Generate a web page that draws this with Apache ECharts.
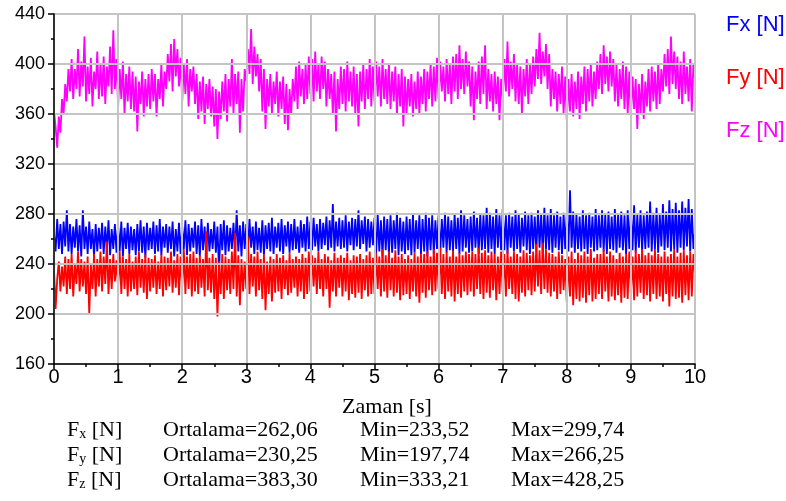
<!DOCTYPE html>
<html>
<head>
<meta charset="utf-8">
<title>Kuvvet - Zaman</title>
<script src="https://cdn.jsdelivr.net/npm/echarts@6/dist/echarts.min.js"></script>
<style>
    html, body { margin: 0; padding: 0; background: #fff; }
    #chart { width: 786px; height: 501px; }
</style>
</head>
<body>
<div id="chart"></div>
<script>
// örnekleme aralığı [s]
var dt = 0.025;

// Fx [N] (mavi)
var fxData = [
    264, 250, 276, 252, 272, 248, 274, 254, 283, 250,
    272, 248, 270, 253, 276, 250, 271, 246, 283, 252,
    270, 248, 274, 252, 268, 246, 272, 250, 269, 252,
    273, 248, 270, 251, 275, 247, 268, 252, 272, 249,
    271, 250, 274, 246, 269, 252, 273, 248, 270, 251,
    268, 247, 272, 250, 275, 249, 270, 245, 273, 251,
    269, 252, 274, 248, 271, 250, 276, 247, 270, 253,
    272, 249, 270, 252, 274, 246, 268, 250, 273, 248,
    270, 252, 275, 247, 272, 250, 269, 253, 274, 248,
    271, 246, 276, 251, 270, 248, 273, 250, 268, 252,
    274, 249, 270, 234, 272, 251, 275, 247, 271, 250,
    269, 252, 273, 248, 283, 250, 271, 246, 274, 252,
    272, 250, 276, 253, 270, 248, 274, 251, 269, 249,
    275, 247, 271, 252, 273, 250, 277, 248, 270, 253,
    273, 250, 276, 248, 271, 254, 274, 249, 272, 251,
    276, 252, 270, 249, 275, 253, 272, 250, 278, 252,
    274, 251, 277, 254, 272, 250, 276, 252, 273, 255,
    278, 251, 275, 253, 288, 250, 274, 254, 277, 252,
    275, 253, 279, 250, 274, 255, 277, 251, 276, 254,
    283, 252, 275, 256, 278, 250, 276, 253, 274, 255,
    277, 248, 280, 250, 275, 246, 278, 251, 276, 248,
    279, 249, 275, 252, 281, 247, 277, 250, 274, 248,
    278, 251, 276, 247, 280, 249, 275, 252, 279, 248,
    276, 250, 281, 246, 277, 251, 279, 248, 275, 252,
    279, 248, 276, 253, 281, 249, 278, 251, 275, 250,
    280, 252, 277, 248, 283, 250, 279, 253, 276, 249,
    278, 250, 282, 253, 277, 248, 280, 251, 279, 252,
    285, 249, 281, 252, 278, 248, 284, 253, 279, 251,
    284, 251, 279, 248, 281, 253, 278, 250, 283, 252,
    280, 249, 277, 254, 282, 251, 279, 248, 281, 252,
    278, 250, 283, 253, 280, 248, 285, 252, 279, 251,
    284, 249, 279, 253, 282, 251, 278, 248, 281, 252,
    281, 250, 299, 253, 282, 249, 280, 252, 278, 250,
    283, 252, 279, 248, 281, 253, 278, 250, 284, 251,
    279, 253, 283, 250, 280, 248, 282, 252, 278, 251,
    284, 249, 280, 253, 282, 251, 279, 248, 283, 252,
    281, 251, 287, 249, 280, 253, 283, 250, 279, 252,
    282, 253, 290, 250, 281, 252, 285, 249, 280, 254,
    288, 251, 282, 253, 291, 250, 284, 252, 289, 249,
    283, 253, 290, 251, 285, 254, 292, 250, 284, 252,
    266
];

// Fy [N] (kırmızı)
var fyData = [
    236, 204, 228, 242, 218, 238, 222, 246, 216, 244,
    220, 248, 214, 240, 224, 250, 218, 244, 222, 242,
    216, 246, 200, 240, 220, 248, 214, 244, 222, 250,
    218, 246, 224, 258, 216, 244, 220, 248, 226, 243,
    222, 250, 216, 246, 220, 244, 214, 248, 218, 242,
    220, 246, 215, 250, 221, 244, 217, 248, 212, 245,
    218, 244, 221, 247, 216, 242, 220, 248, 214, 246,
    219, 245, 222, 250, 217, 243, 221, 248, 215, 246,
    222, 252, 216, 246, 220, 248, 214, 250, 218, 245,
    216, 247, 221, 244, 214, 266, 219, 245, 217, 248,
    212, 245, 198, 242, 216, 248, 212, 246, 219, 244,
    216, 250, 220, 265, 214, 247, 207, 244, 218, 242,
    220, 262, 216, 248, 222, 246, 214, 250, 219, 244,
    212, 248, 203, 242, 216, 246, 210, 244, 217, 248,
    218, 245, 212, 247, 220, 243, 215, 249, 217, 244,
    221, 246, 214, 244, 218, 248, 212, 245, 216, 250,
    218, 247, 222, 245, 216, 250, 220, 244, 214, 248,
    220, 246, 205, 243, 218, 249, 214, 245, 221, 247,
    214, 245, 218, 249, 211, 243, 216, 247, 213, 246,
    217, 248, 212, 244, 219, 247, 214, 250, 216, 245,
    216, 249, 220, 246, 214, 252, 218, 247, 213, 250,
    219, 245, 214, 251, 217, 246, 211, 248, 215, 244,
    216, 247, 212, 244, 218, 249, 214, 246, 209, 248,
    217, 248, 213, 250, 219, 246, 215, 252, 218, 249,
    220, 253, 216, 248, 212, 250, 218, 246, 214, 251,
    210, 246, 216, 249, 213, 247, 218, 250, 215, 248,
    218, 250, 214, 248, 220, 253, 216, 249, 212, 251,
    217, 247, 213, 250, 219, 248, 211, 246, 216, 250,
    218, 248, 214, 251, 220, 246, 216, 250, 212, 248,
    210, 246, 217, 251, 214, 249, 219, 247, 215, 250,
    218, 256, 222, 251, 216, 257, 220, 252, 217, 249,
    214, 248, 218, 246, 212, 250, 216, 247, 219, 244,
    209, 246, 214, 250, 207, 244, 212, 249, 210, 247,
    213, 250, 209, 246, 215, 252, 210, 245, 212, 248,
    216, 248, 212, 252, 218, 246, 210, 250, 214, 247,
    211, 244, 215, 249, 209, 246, 213, 248, 212, 250,
    216, 246, 211, 251, 214, 248, 217, 252, 212, 247,
    215, 249, 210, 247, 216, 252, 212, 248, 214, 246,
    210, 250, 216, 246, 206, 248, 214, 252, 212, 246,
    213, 249, 209, 251, 215, 247, 211, 250, 214, 248,
    232
];

// Fz [N] (pembe)
var fzData = [
    362, 350, 333, 358, 345, 372, 360, 384, 370, 396,
    378, 404, 372, 396, 380, 412, 374, 402, 382, 422,
    370, 398, 376, 405, 366, 394, 380, 410, 372, 400,
    374, 406, 368, 398, 382, 414, 376, 427, 380, 404,
    366, 396, 372, 402, 360, 392, 370, 398, 364, 394,
    362, 390, 346, 386, 368, 394, 358, 388, 366, 392,
    364, 396, 370, 392, 358, 388, 372, 400, 366, 394,
    380, 408, 386, 416, 378, 420, 390, 412, 382, 405,
    370, 400, 376, 404, 366, 396, 378, 398, 368, 392,
    356, 386, 362, 390, 352, 384, 364, 388, 358, 382,
    350, 380, 340, 378, 356, 386, 362, 392, 354, 388,
    366, 404, 360, 392, 368, 394, 345, 388, 362, 396,
    386, 412, 392, 428, 384, 414, 390, 408, 378, 404,
    362, 396, 348, 388, 366, 392, 360, 386, 368, 394,
    358, 386, 364, 390, 352, 384, 347, 380, 360, 388,
    370, 398, 364, 402, 374, 396, 368, 400, 372, 406,
    376, 404, 370, 410, 378, 400, 372, 406, 380, 402,
    366, 396, 372, 392, 360, 394, 346, 388, 364, 398,
    368, 396, 362, 402, 370, 394, 366, 398, 360, 392,
    350, 394, 370, 400, 364, 396, 372, 404, 366, 398,
    370, 402, 374, 398, 366, 404, 372, 396, 368, 400,
    364, 394, 370, 398, 360, 392, 366, 396, 350, 390,
    360, 388, 366, 392, 358, 386, 364, 394, 360, 390,
    368, 396, 362, 394, 372, 400, 366, 398, 370, 405,
    372, 402, 378, 398, 370, 404, 376, 400, 368, 406,
    378, 408, 372, 415, 380, 404, 376, 410, 382, 402,
    366, 398, 355, 394, 372, 402, 368, 406, 376, 415,
    364, 396, 370, 392, 362, 394, 368, 390, 355, 388,
    372, 404, 378, 418, 374, 402, 380, 408, 370, 400,
    368, 398, 360, 396, 374, 404, 368, 400, 376, 406,
    382, 412, 388, 425, 384, 410, 390, 416, 380, 408,
    366, 396, 372, 394, 362, 392, 368, 398, 360, 390,
    355, 388, 362, 392, 358, 386, 364, 394, 356, 390,
    368, 398, 362, 396, 370, 400, 366, 394, 372, 402,
    380, 408, 376, 415, 384, 406, 378, 410, 382, 404,
    370, 400, 366, 396, 372, 402, 364, 398, 360, 394,
    358, 390, 364, 388, 348, 384, 360, 392, 356, 386,
    366, 396, 362, 398, 370, 394, 364, 400, 368, 396,
    378, 408, 382, 412, 376, 422, 384, 410, 380, 406,
    372, 402, 368, 410, 376, 398, 370, 404, 362, 400,
    388
];

var seriesNames = ['Fx [N]', 'Fy [N]', 'Fz [N]'];
var seriesColors = ['#0000ff', '#ff0000', '#ff00ff'];

// alt tablo: indis, ortalama, min, max
var statSubs = ['x', 'y', 'z'];
var statMeans = ['262,06', '230,25', '383,30'];
var statMins = ['233,52', '197,74', '333,21'];
var statMaxs = ['299,74', '266,25', '428,25'];

function toPairs(arr) {
    return arr.map(function (v, i) {
        return [+(i * dt).toFixed(3), v];
    });
}

var myChart = echarts.init(document.getElementById('chart'));

var serif = "'Liberation Serif', 'Times New Roman', serif";
var sans = "'Liberation Sans', Arial, sans-serif";

var graphics = [{
    type: 'text',
    x: 387,
    y: 407,
    style: {
        text: 'Zaman [s]',
        fontFamily: serif,
        fontSize: 22,
        fill: '#000',
        align: 'center',
        verticalAlign: 'middle'
    }
}];

for (var r = 0; r < 3; r++) {
    var y = 430 + 25 * r;
    graphics.push({
        type: 'text',
        x: 67,
        y: y,
        style: {
            text: '{a|F}{s|' + statSubs[r] + '}{a| [N]}',
            rich: {
                a: { fontFamily: serif, fontSize: 22, fill: '#000', verticalAlign: 'bottom', lineHeight: 22 },
                s: { fontFamily: serif, fontSize: 14, fill: '#000', verticalAlign: 'bottom', lineHeight: 14 }
            },
            verticalAlign: 'middle'
        }
    });
    var cols = [
        [163, 'Ortalama=' + statMeans[r]],
        [360, 'Min=' + statMins[r]],
        [511, 'Max=' + statMaxs[r]]
    ];
    cols.forEach(function (c) {
        graphics.push({
            type: 'text',
            x: c[0],
            y: y,
            style: {
                text: c[1],
                fontFamily: serif,
                fontSize: 22,
                fill: '#000',
                verticalAlign: 'middle'
            }
        });
    });
}

var option = {
    animation: false,
    backgroundColor: '#fff',
    grid: {
        left: 54,
        right: 91,
        top: 14,
        bottom: 137,
        containLabel: false
    },
    legend: {
        orient: 'vertical',
        left: 715,
        top: 9,
        itemGap: 31,
        itemWidth: 0,
        itemHeight: 0,
        selectedMode: false,
        textStyle: { fontFamily: sans, fontSize: 22 },
        data: seriesNames.map(function (n, i) {
            return { name: n, textStyle: { color: seriesColors[i] } };
        })
    },
    // ızgara çizgileri eğrilerin üstünde
    xAxis: {
        type: 'value',
        z: 5,
        min: 0,
        max: 10,
        interval: 1,
        axisLine: { onZero: false, lineStyle: { color: '#000', width: 1.5 } },
        axisTick: { length: 5, lineStyle: { color: '#000', width: 1.5 } },
        minorTick: { show: true, splitNumber: 2, length: 3, lineStyle: { color: '#000', width: 1.5 } },
        axisLabel: { color: '#000', fontFamily: sans, fontSize: 20, margin: 3 },
        splitLine: { show: true, lineStyle: { color: '#c4c4c4', width: 2 } }
    },
    yAxis: {
        type: 'value',
        z: 5,
        min: 160,
        max: 440,
        interval: 40,
        axisLine: { show: true, onZero: false, lineStyle: { color: '#000', width: 1.5 } },
        axisTick: { show: true, length: 6, lineStyle: { color: '#000', width: 1.5 } },
        minorTick: { show: true, splitNumber: 2, length: 3, lineStyle: { color: '#000', width: 1.5 } },
        axisLabel: { color: '#000', fontFamily: sans, fontSize: 18, margin: 9 },
        splitLine: { show: true, lineStyle: { color: '#c4c4c4', width: 2 } }
    },
    series: seriesNames.map(function (n, i) {
        return {
            name: n,
            type: 'line',
            data: toPairs([fxData, fyData, fzData][i]),
            showSymbol: false,
            symbol: 'none',
            color: seriesColors[i],
            lineStyle: { color: seriesColors[i], width: 1.8 },
            silent: true
        };
    }),
    graphic: graphics
};

myChart.setOption(option);
</script>
</body>
</html>
